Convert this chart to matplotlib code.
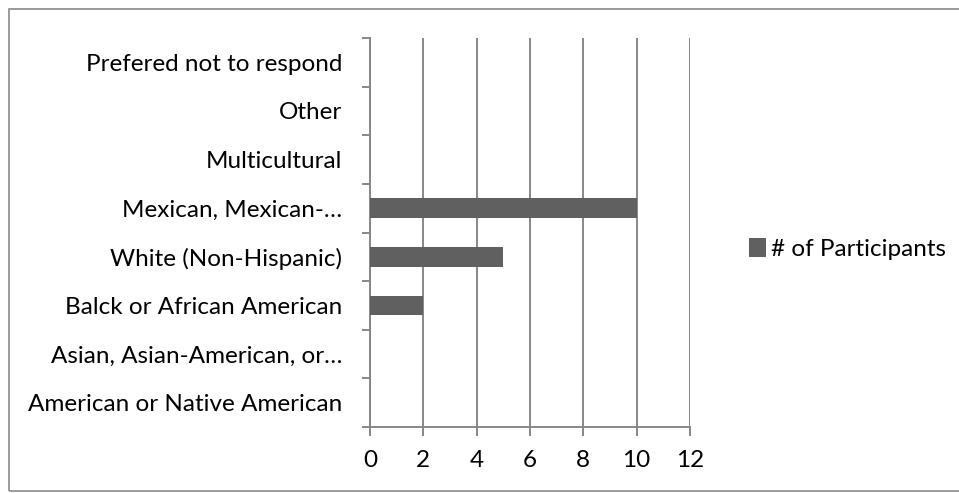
import matplotlib.pyplot as plt
from matplotlib.patches import Rectangle

# -----------------------
# Data (bottom to top, as drawn)
# -----------------------

categories = [
    "American or Native American",
    "Asian, Asian-American, or\u2026",
    "Balck or African American",
    "White (Non-Hispanic)",
    "Mexican, Mexican-\u2026",
    "Multicultural",
    "Other",
    "Prefered not to respond",
]
participants = [0, 0, 2, 5, 10, 0, 0, 0]
x_ticks = [0, 2, 4, 6, 8, 10, 12]

series_name = "# of Participants"
bar_color = "#606060"
grid_color = "#878787"

plt.rcParams["font.family"] = ["Lato", "DejaVu Sans"]
font_size = 17.5

W, H = 959, 493
fig = plt.figure(figsize=(W / 100, H / 100), dpi=100)
ax = fig.add_axes([370 / W, (H - 427) / H, 320 / W, 389 / H])

y_pos = list(range(len(categories)))
ax.barh(y_pos, participants, height=0.4, color=bar_color, label=series_name, zorder=3)

ax.set_xlim(0, 12)
ax.set_ylim(-0.5, len(categories) - 0.5)
ax.set_xticks(x_ticks)
ax.set_yticks([i - 0.5 for i in range(len(categories) + 1)], minor=False)
ax.set_yticklabels([])
ax.set_yticks(y_pos, minor=True)
ax.set_yticklabels(categories, minor=True)

ax.xaxis.grid(True, color=grid_color, linewidth=1.4, zorder=1)
for side in ("top", "right"):
    ax.spines[side].set_visible(False)
for side in ("left", "bottom"):
    ax.spines[side].set_color(grid_color)
    ax.spines[side].set_linewidth(1.4)

ax.tick_params(axis="y", which="major", length=6, width=1.4, color=grid_color, direction="out")
ax.tick_params(axis="y", which="minor", length=0, pad=20, labelsize=font_size)
ax.tick_params(axis="x", length=6.5, width=1.4, color=grid_color, direction="out", pad=10,
               labelsize=font_size)

fig.legend(
    loc="center left",
    bbox_to_anchor=(727 / W, 1 - 249 / H),
    frameon=False,
    fontsize=font_size,
    handlelength=0.72,
    handleheight=0.8,
    handletextpad=0.18,
)

# chart border
fig.patches.append(
    Rectangle((9 / W, 2 / H), 1.2, (H - 11) / H, transform=fig.transFigure,
              fill=False, edgecolor="#8a8a8a", linewidth=1.2)
)

fig.savefig("out.png", dpi=100)
